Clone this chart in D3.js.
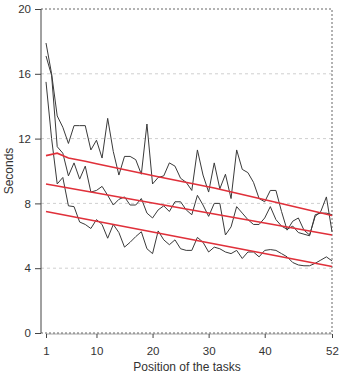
<!DOCTYPE html>
<html>
<head>
<meta charset="utf-8">
<script src="https://cdn.jsdelivr.net/npm/d3@7"></script>
<style>
  body { margin: 0; background: #fff; }
  text { font-family: "Liberation Sans", Arial, sans-serif; }
</style>
</head>
<body>
<div id="chart"></div>
<script>
// task position 1..52
const positions = d3.range(1, 53);

// three runs of seconds per task
const seriesA = [17.9, 16.0, 13.4, 12.7, 11.7, 12.8, 12.8, 12.8, 11.3, 11.9,
    10.8, 13.25, 11.2, 9.75, 10.9, 10.9, 10.7, 9.8, 12.9, 9.2,
    9.6, 9.7, 10.5, 10.3, 9.55, 9.3, 8.8, 11.3, 9.75, 8.7,
    10.5, 8.9, 9.8, 8.3, 11.3, 10.1, 9.9, 9.3, 8.3, 8.1,
    8.8, 8.8, 7.5, 6.35, 6.9, 7.1, 6.35, 6.05, 7.2, 7.5, 8.4, 6.25];
const seriesB = [17.1, 15.9, 11.5, 11.1, 9.7, 10.5, 9.5, 10.3, 8.7, 8.8,
    9.05, 8.5, 7.9, 8.25, 8.4, 7.9, 7.9, 8.3, 7.4, 7.1,
    7.6, 7.85, 7.5, 8.1, 8.1, 7.6, 7.3, 8.5, 7.9, 7.2,
    8.0, 8.0, 6.05, 6.55, 7.8, 7.4, 7.0, 6.7, 6.7, 7.1,
    7.8, 7.0, 6.6, 6.4, 6.6, 6.2, 6.1, 6.0, 7.3, 7.4, 7.4, 7.3];
const seriesC = [15.5, 12.0, 9.2, 9.6, 7.85, 7.8, 6.85, 6.7, 6.45, 7.0,
    6.7, 5.85, 6.7, 6.2, 5.3, 5.6, 5.95, 6.25, 5.2, 4.9,
    6.3, 5.75, 5.45, 5.75, 5.2, 5.1, 5.1, 5.9, 5.6, 5.0,
    5.3, 5.2, 5.0, 4.9, 5.1, 4.6, 5.0, 5.0, 4.7, 5.1,
    5.15, 5.1, 4.9, 4.7, 4.35, 4.2, 4.15, 4.15, 4.3, 4.5, 4.7, 4.45];

// fitted trend lines as [position, seconds]
const trendA = [[1, 10.95], [3, 11.1], [5, 10.8], [8, 10.6], [10, 10.45],
    [21, 9.65], [31, 8.95], [41, 8.15], [52, 7.25]];
const trendB = [[1, 9.2], [52, 6.05]];
const trendC = [[1, 7.5], [52, 4.1]];

const xTicks = [1, 10, 20, 30, 40, 52];
const yTicks = [0, 4, 8, 12, 16, 20];

const width = 339, height = 375;
const plotLeft = 41, plotRight = 332, plotTop = 9, plotBottom = 333;

const svg = d3.select("#chart").append("svg")
    .attr("width", width)
    .attr("height", height);

const x = d3.scaleLinear().domain([1, 52]).range([46, plotRight]);
const y = d3.scaleLinear().domain([0, 20]).range([plotBottom, plotTop]);

// grid
svg.append("g")
    .selectAll("line")
    .data(yTicks.filter(d => d > 0 && d < 20))
    .enter().append("line")
        .attr("x1", plotLeft).attr("x2", plotRight)
        .attr("y1", d => y(d)).attr("y2", d => y(d))
        .attr("stroke", "#cfcfcf")
        .attr("stroke-dasharray", "3,3");

// dashed box, top / right / bottom
svg.append("path")
    .attr("d", `M${plotLeft},${plotTop}H${plotRight}V${plotBottom}H${plotLeft}`)
    .attr("fill", "none")
    .attr("stroke", "#666")
    .attr("stroke-width", 1)
    .attr("stroke-dasharray", "2,2");

// y axis
const yAxis = svg.append("g")
    .attr("transform", `translate(${plotLeft},0)`)
    .call(d3.axisLeft(y).tickValues(yTicks).tickSize(6).tickPadding(4));
yAxis.select(".domain").attr("stroke", "#444").attr("d", `M0,${plotTop}V${plotBottom}`);
yAxis.selectAll(".tick line").attr("stroke", "#444");
yAxis.selectAll("text").attr("font-size", 11.5).attr("fill", "#333");

// x axis
const xAxis = svg.append("g")
    .attr("transform", `translate(0,${plotBottom + 1})`)
    .call(d3.axisBottom(x).tickValues(xTicks).tickSize(4).tickPadding(9));
xAxis.select(".domain").attr("stroke", "#666").attr("stroke-width", 0.6)
    .attr("d", `M${x(1)},0H${x(52)}`);
xAxis.selectAll(".tick line").attr("stroke", "#444");
xAxis.selectAll("text").attr("font-size", 11.5).attr("fill", "#333");

// raw series
const line = d3.line()
    .x((d, i) => x(positions[i]))
    .y(d => y(d));

[seriesA, seriesB, seriesC].forEach(s => {
    svg.append("path")
        .datum(s)
        .attr("fill", "none")
        .attr("stroke", "#3a3a3a")
        .attr("stroke-width", 1)
        .attr("stroke-linejoin", "round")
        .attr("d", line);
});

// trend lines
const trendLine = d3.line()
    .x(d => x(d[0]))
    .y(d => y(d[1]));

[trendA, trendB, trendC].forEach(t => {
    svg.append("path")
        .datum(t)
        .attr("fill", "none")
        .attr("stroke", "#e0303a")
        .attr("stroke-width", 1.6)
        .attr("d", trendLine);
});

// axis titles
svg.append("text")
    .attr("text-anchor", "middle")
    .attr("x", 187)
    .attr("y", 371)
    .attr("font-size", 12)
    .attr("fill", "#333")
    .text("Position of the tasks");

svg.append("text")
    .attr("text-anchor", "middle")
    .attr("transform", "rotate(-90)")
    .attr("x", -(plotTop + plotBottom) / 2)
    .attr("y", 13)
    .attr("font-size", 12)
    .attr("fill", "#333")
    .text("Seconds");
</script>
</body>
</html>
